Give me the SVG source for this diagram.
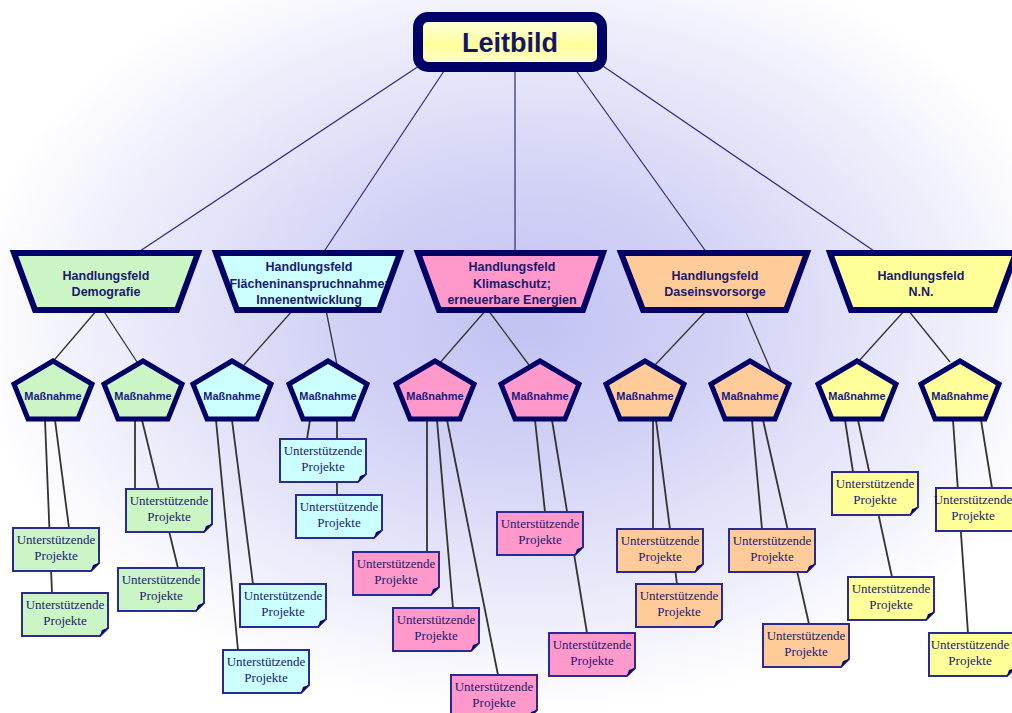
<svg xmlns="http://www.w3.org/2000/svg" width="1012" height="713" viewBox="0 0 1012 713">
<defs>
<radialGradient id="bg" cx="0.52" cy="0.45" r="0.55">
<stop offset="0" stop-color="#c2c2f3"/>
<stop offset="0.35" stop-color="#d2d2f6"/>
<stop offset="0.75" stop-color="#ededfb"/>
<stop offset="1" stop-color="#ffffff"/>
</radialGradient>
<linearGradient id="lb" x1="0" y1="0" x2="0" y2="1">
<stop offset="0" stop-color="#ffffe8"/>
<stop offset="0.55" stop-color="#ffff9c"/>
<stop offset="1" stop-color="#ffffd8"/>
</linearGradient>
</defs>
<style>
.tz{stroke:#000066;stroke-width:6;stroke-linejoin:miter}
.pg{stroke:#000066;stroke-width:5;stroke-linejoin:miter}
.nt{stroke:#2a2a90;stroke-width:2}
.fold{fill:#000066}
.g{fill:#ccf5c6}.c{fill:#ccffff}.p{fill:#ff99cc}.o{fill:#ffcc99}.y{fill:#ffff99}
.ht{font-family:"Liberation Sans",Arial,sans-serif;font-weight:bold;font-size:12.5px;fill:#1a1a6e;text-anchor:middle}
.mt{font-family:"Liberation Sans",Arial,sans-serif;font-weight:bold;font-size:11px;fill:#1a1a80;text-anchor:middle}
.ut{font-family:"Liberation Serif","Times New Roman",serif;font-size:13px;fill:#1a1a70;text-anchor:middle}
.top{stroke:#2a2a78;stroke-width:1.2;fill:none}
.ln{stroke:#333;stroke-width:1.3;fill:none}
.ln2{stroke:#333;stroke-width:1.8;fill:none}
</style>
<rect x="0" y="0" width="1012" height="713" fill="url(#bg)"/>

<g id="connectors">
<line class="top" x1="425" y1="62" x2="137" y2="253"/>
<line class="top" x1="450" y1="62" x2="323" y2="253"/>
<line class="top" x1="515" y1="62" x2="515" y2="253"/>
<line class="top" x1="570" y1="62" x2="707" y2="253"/>
<line class="top" x1="597" y1="62" x2="877" y2="253"/>

<line class="ln" x1="97" y1="310" x2="50" y2="365"/>
<line class="ln" x1="103" y1="310" x2="139" y2="365"/>
<line class="ln" x1="293" y1="310" x2="244" y2="365"/>
<line class="ln" x1="326" y1="310" x2="337" y2="365"/>
<line class="ln" x1="486" y1="310" x2="438" y2="365"/>
<line class="ln" x1="488" y1="310" x2="529" y2="365"/>
<line class="ln" x1="707" y1="310" x2="655" y2="365"/>
<line class="ln" x1="745" y1="310" x2="775" y2="380"/>
<line class="ln" x1="905" y1="310" x2="858" y2="362"/>
<line class="ln" x1="908" y1="310" x2="950" y2="362"/>

<line class="ln2" x1="45" y1="420" x2="52" y2="593"/>
<line class="ln2" x1="55" y1="420" x2="69" y2="528"/>
<line class="ln2" x1="135" y1="420" x2="135" y2="489"/>
<line class="ln2" x1="142" y1="420" x2="178" y2="568"/>
<line class="ln2" x1="216" y1="420" x2="238" y2="650"/>
<line class="ln2" x1="232" y1="420" x2="253" y2="584"/>
<line class="ln2" x1="310" y1="420" x2="307" y2="439"/>
<line class="ln2" x1="337" y1="420" x2="337" y2="495"/>
<line class="ln2" x1="427" y1="420" x2="427" y2="552"/>
<line class="ln2" x1="437" y1="420" x2="453" y2="608"/>
<line class="ln2" x1="447" y1="420" x2="498" y2="675"/>
<line class="ln2" x1="535" y1="420" x2="545" y2="512"/>
<line class="ln2" x1="552" y1="420" x2="587" y2="633"/>
<line class="ln2" x1="653" y1="420" x2="653" y2="529"/>
<line class="ln2" x1="656" y1="420" x2="677" y2="584"/>
<line class="ln2" x1="752" y1="420" x2="762" y2="529"/>
<line class="ln2" x1="763" y1="420" x2="809" y2="624"/>
<line class="ln2" x1="845" y1="420" x2="853" y2="472"/>
<line class="ln2" x1="858" y1="420" x2="892" y2="577"/>
<line class="ln2" x1="953" y1="420" x2="968" y2="633"/>
<line class="ln2" x1="981" y1="420" x2="992" y2="488"/>
</g>

<g id="leitbild">
<rect x="418" y="17" width="184" height="50" rx="10" fill="url(#lb)" stroke="#000066" stroke-width="10"/>
<text x="510" y="52" font-family="Liberation Sans, Arial, sans-serif" font-weight="bold" font-size="27" fill="#14146a" text-anchor="middle">Leitbild</text>
</g>

<g id="hf-demografie">
<polygon class="tz g" points="14,253 198,253 177,310 35,310"/>
<text class="ht" x="106" y="280">Handlungsfeld</text>
<text class="ht" x="106" y="296">Demografie</text>
</g>
<g id="hf-flaeche">
<polygon class="c" points="216,253 400,253 379,310 237,310"/>
<text class="ht" x="309" y="271">Handlungsfeld</text>
<text class="ht" x="309" y="288">Flächeninanspruchnahme;</text>
<text class="ht" x="309" y="304">Innenentwicklung</text>
<polygon class="tz" fill="none" points="216,253 400,253 379,310 237,310"/>
</g>
<g id="hf-klima">
<polygon class="tz p" points="418,253 603,253 583,310 439,310"/>
<text class="ht" x="512" y="271">Handlungsfeld</text>
<text class="ht" x="512" y="288">Klimaschutz;</text>
<text class="ht" x="512" y="304">erneuerbare Energien</text>
</g>
<g id="hf-daseinsvorsorge">
<polygon class="tz o" points="621,253 807,253 786,310 643,310"/>
<text class="ht" x="715" y="280">Handlungsfeld</text>
<text class="ht" x="715" y="296">Daseinsvorsorge</text>
</g>
<g id="hf-nn">
<polygon class="tz y" points="830,253 1016,253 995,310 851,310"/>
<text class="ht" x="921" y="280">Handlungsfeld</text>
<text class="ht" x="921" y="296">N.N.</text>
</g>

<g id="m1"><polygon class="pg g" points="53,361 92,384 78,419 28,419 14,384"/><text class="mt" x="53" y="400">Maßnahme</text></g>
<g id="m2"><polygon class="pg g" points="143,361 182,384 168,419 118,419 104,384"/><text class="mt" x="143" y="400">Maßnahme</text></g>
<g id="m3"><polygon class="pg c" points="232,361 271,384 257,419 207,419 193,384"/><text class="mt" x="232" y="400">Maßnahme</text></g>
<g id="m4"><polygon class="pg c" points="328,361 367,384 353,419 303,419 289,384"/><text class="mt" x="328" y="400">Maßnahme</text></g>
<g id="m5"><polygon class="pg p" points="435,361 474,384 460,419 410,419 396,384"/><text class="mt" x="435" y="400">Maßnahme</text></g>
<g id="m6"><polygon class="pg p" points="540,361 579,384 565,419 515,419 501,384"/><text class="mt" x="540" y="400">Maßnahme</text></g>
<g id="m7"><polygon class="pg o" points="645,361 684,384 670,419 620,419 606,384"/><text class="mt" x="645" y="400">Maßnahme</text></g>
<g id="m8"><polygon class="pg o" points="750,361 789,384 775,419 725,419 711,384"/><text class="mt" x="750" y="400">Maßnahme</text></g>
<g id="m9"><polygon class="pg y" points="857,361 896,384 882,419 832,419 818,384"/><text class="mt" x="857" y="400">Maßnahme</text></g>
<g id="m10"><polygon class="pg y" points="960,361 999,384 985,419 935,419 921,384"/><text class="mt" x="960" y="400">Maßnahme</text></g>

<g id="pA" transform="translate(13,528)"><path class="nt g" d="M0,0H86V35L78,43H0Z"/><path class="fold" d="M86,35L78,43L80,37Z"/><text class="ut" x="43" y="16">Unterstützende</text><text class="ut" x="43" y="32">Projekte</text></g>
<g id="pB" transform="translate(22,593)"><path class="nt g" d="M0,0H86V35L78,43H0Z"/><path class="fold" d="M86,35L78,43L80,37Z"/><text class="ut" x="43" y="16">Unterstützende</text><text class="ut" x="43" y="32">Projekte</text></g>
<g id="pC" transform="translate(126,489)"><path class="nt g" d="M0,0H86V35L78,43H0Z"/><path class="fold" d="M86,35L78,43L80,37Z"/><text class="ut" x="43" y="16">Unterstützende</text><text class="ut" x="43" y="32">Projekte</text></g>
<g id="pD" transform="translate(118,568)"><path class="nt g" d="M0,0H86V35L78,43H0Z"/><path class="fold" d="M86,35L78,43L80,37Z"/><text class="ut" x="43" y="16">Unterstützende</text><text class="ut" x="43" y="32">Projekte</text></g>
<g id="pE" transform="translate(280,439)"><path class="nt c" d="M0,0H86V35L78,43H0Z"/><path class="fold" d="M86,35L78,43L80,37Z"/><text class="ut" x="43" y="16">Unterstützende</text><text class="ut" x="43" y="32">Projekte</text></g>
<g id="pF" transform="translate(296,495)"><path class="nt c" d="M0,0H86V35L78,43H0Z"/><path class="fold" d="M86,35L78,43L80,37Z"/><text class="ut" x="43" y="16">Unterstützende</text><text class="ut" x="43" y="32">Projekte</text></g>
<g id="pG" transform="translate(240,584)"><path class="nt c" d="M0,0H86V35L78,43H0Z"/><path class="fold" d="M86,35L78,43L80,37Z"/><text class="ut" x="43" y="16">Unterstützende</text><text class="ut" x="43" y="32">Projekte</text></g>
<g id="pH" transform="translate(223,650)"><path class="nt c" d="M0,0H86V35L78,43H0Z"/><path class="fold" d="M86,35L78,43L80,37Z"/><text class="ut" x="43" y="16">Unterstützende</text><text class="ut" x="43" y="32">Projekte</text></g>
<g id="pI" transform="translate(353,552)"><path class="nt p" d="M0,0H86V35L78,43H0Z"/><path class="fold" d="M86,35L78,43L80,37Z"/><text class="ut" x="43" y="16">Unterstützende</text><text class="ut" x="43" y="32">Projekte</text></g>
<g id="pJ" transform="translate(393,608)"><path class="nt p" d="M0,0H86V35L78,43H0Z"/><path class="fold" d="M86,35L78,43L80,37Z"/><text class="ut" x="43" y="16">Unterstützende</text><text class="ut" x="43" y="32">Projekte</text></g>
<g id="pK" transform="translate(451,675)"><path class="nt p" d="M0,0H86V35L78,43H0Z"/><path class="fold" d="M86,35L78,43L80,37Z"/><text class="ut" x="43" y="16">Unterstützende</text><text class="ut" x="43" y="32">Projekte</text></g>
<g id="pL" transform="translate(497,512)"><path class="nt p" d="M0,0H86V35L78,43H0Z"/><path class="fold" d="M86,35L78,43L80,37Z"/><text class="ut" x="43" y="16">Unterstützende</text><text class="ut" x="43" y="32">Projekte</text></g>
<g id="pM" transform="translate(549,633)"><path class="nt p" d="M0,0H86V35L78,43H0Z"/><path class="fold" d="M86,35L78,43L80,37Z"/><text class="ut" x="43" y="16">Unterstützende</text><text class="ut" x="43" y="32">Projekte</text></g>
<g id="pN" transform="translate(617,529)"><path class="nt o" d="M0,0H86V35L78,43H0Z"/><path class="fold" d="M86,35L78,43L80,37Z"/><text class="ut" x="43" y="16">Unterstützende</text><text class="ut" x="43" y="32">Projekte</text></g>
<g id="pO" transform="translate(636,584)"><path class="nt o" d="M0,0H86V35L78,43H0Z"/><path class="fold" d="M86,35L78,43L80,37Z"/><text class="ut" x="43" y="16">Unterstützende</text><text class="ut" x="43" y="32">Projekte</text></g>
<g id="pP" transform="translate(729,529)"><path class="nt o" d="M0,0H86V35L78,43H0Z"/><path class="fold" d="M86,35L78,43L80,37Z"/><text class="ut" x="43" y="16">Unterstützende</text><text class="ut" x="43" y="32">Projekte</text></g>
<g id="pQ" transform="translate(763,624)"><path class="nt o" d="M0,0H86V35L78,43H0Z"/><path class="fold" d="M86,35L78,43L80,37Z"/><text class="ut" x="43" y="16">Unterstützende</text><text class="ut" x="43" y="32">Projekte</text></g>
<g id="pR" transform="translate(832,472)"><path class="nt y" d="M0,0H86V35L78,43H0Z"/><path class="fold" d="M86,35L78,43L80,37Z"/><text class="ut" x="43" y="16">Unterstützende</text><text class="ut" x="43" y="32">Projekte</text></g>
<g id="pS" transform="translate(848,577)"><path class="nt y" d="M0,0H86V35L78,43H0Z"/><path class="fold" d="M86,35L78,43L80,37Z"/><text class="ut" x="43" y="16">Unterstützende</text><text class="ut" x="43" y="32">Projekte</text></g>
<g id="pT" transform="translate(936,488)"><path class="nt y" d="M0,0H86V35L78,43H0Z"/><path class="fold" d="M86,35L78,43L80,37Z"/><text class="ut" x="37" y="16" font-size="12.5">Unterstützende</text><text class="ut" x="37" y="32">Projekte</text></g>
<g id="pU" transform="translate(929,633)"><path class="nt y" d="M0,0H86V35L78,43H0Z"/><path class="fold" d="M86,35L78,43L80,37Z"/><text class="ut" x="41" y="16">Unterstützende</text><text class="ut" x="41" y="32">Projekte</text></g>
</svg>
